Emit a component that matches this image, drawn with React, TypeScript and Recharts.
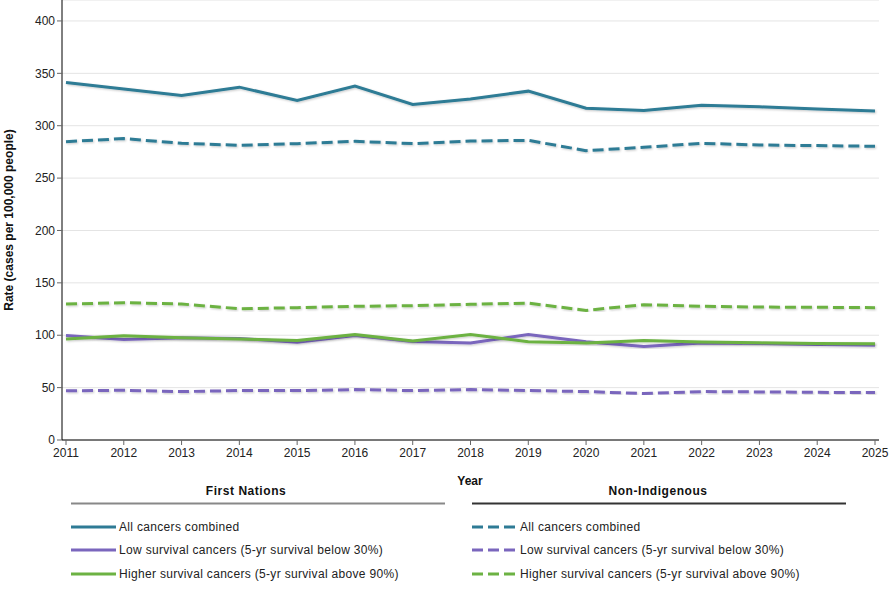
import React from 'react';
import { LineChart, Line, XAxis, YAxis, CartesianGrid, Legend, Label } from 'recharts';

const years = ['2011', '2012', '2013', '2014', '2015', '2016', '2017', '2018', '2019', '2020', '2021', '2022', '2023', '2024', '2025'];
const fnAll = [341.2, 335, 328.8, 336.8, 324, 337.8, 320.2, 325.5, 333, 316.7, 314.5, 319.6, 318, 316, 314];
const fnLow = [99.8, 96, 97.6, 96.9, 93.4, 99.8, 94.1, 92.5, 100.8, 93.8, 89.3, 92.5, 92.1, 91.1, 90.5];
const fnHigh = [96.3, 99.5, 97.6, 96.3, 95, 100.8, 94.4, 100.8, 93.8, 92.5, 95, 93.5, 92.8, 92.1, 91.8];
const niAll = [284.8, 287.7, 283.2, 281.3, 282.9, 285.1, 282.9, 285.4, 286, 276.2, 279.4, 283.2, 281.6, 281, 280.4];
const niLow = [46.9, 47.5, 46.2, 47.2, 47.2, 48.1, 47.2, 48.1, 47.2, 46.2, 44.3, 46.2, 45.9, 45.5, 45.3];
const niHigh = [129.8, 131.1, 129.8, 125.3, 126.3, 127.6, 128.2, 129.5, 130.7, 123.7, 129.2, 127.6, 126.9, 126.7, 126.3];
const yTicks = [0, 50, 100, 150, 200, 250, 300, 350, 400];

const seriesLabels = [
  'All cancers combined',
  'Low survival cancers (5-yr survival below 30%)',
  'Higher survival cancers (5-yr survival above 90%)',
];
const groupTitles = ['First Nations', 'Non-Indigenous'];

const TEAL = '#2e7b95';
const PURPLE = '#7a66bd';
const GREEN = '#6cb243';
const colors = [TEAL, PURPLE, GREEN];
const DASH = '11 5';
const FONT = '"Liberation Sans", Arial, sans-serif';

const data = years.map((y, i) => ({
  year: y,
  fnAll: fnAll[i],
  fnLow: fnLow[i],
  fnHigh: fnHigh[i],
  niAll: niAll[i],
  niLow: niLow[i],
  niHigh: niHigh[i],
}));

const lines = [
  { key: 'fnAll', color: TEAL, dash: undefined },
  { key: 'fnLow', color: PURPLE, dash: undefined },
  { key: 'fnHigh', color: GREEN, dash: undefined },
  { key: 'niAll', color: TEAL, dash: DASH },
  { key: 'niLow', color: PURPLE, dash: DASH },
  { key: 'niHigh', color: GREEN, dash: DASH },
];

const LegendContent = () => {
  const cols = [
    { title: groupTitles[0], titleX: 246, ulX1: 71, ulX2: 445, ulColor: '#888888', symX: 71, textX: 119, dash: undefined },
    { title: groupTitles[1], titleX: 658, ulX1: 472, ulX2: 846, ulColor: '#333333', symX: 472, textX: 520, dash: DASH },
  ];
  const rowsY = [57, 80, 104];
  return (
    <svg width={890} height={130} style={{ position: 'absolute', left: 0, top: 470, overflow: 'visible' }}>
      {cols.map((c, ci) => (
        <g key={ci}>
          <text x={c.titleX} y={21} textAnchor="middle" dominantBaseline="central" fontFamily={FONT} fontSize={12} fontWeight="bold" letterSpacing={0.55} fill="#111">
            {c.title}
          </text>
          <line x1={c.ulX1} x2={c.ulX2} y1={33.5} y2={33.5} stroke={c.ulColor} strokeWidth={2} />
          {seriesLabels.map((s, si) => (
            <g key={si}>
              <line x1={c.symX} x2={c.symX + 45} y1={rowsY[si]} y2={rowsY[si]} stroke={colors[si]} strokeWidth={3} strokeDasharray={c.dash} />
              <text x={c.textX} y={rowsY[si]} dominantBaseline="central" fontFamily={FONT} fontSize={12} letterSpacing={0.32} fill="#222">
                {s}
              </text>
            </g>
          ))}
        </g>
      ))}
    </svg>
  );
};

export default function App() {
  return (
    <div style={{ position: 'absolute', left: 0, top: 0, width: 890, height: 600, background: '#fff' }}>
      <LineChart width={890} height={600} data={data} margin={{ top: 0, right: 11, bottom: 130, left: 0 }}>
        <defs>
          <filter id="lineShadow" x="-5%" y="-20%" width="110%" height="140%">
            <feDropShadow dx="1" dy="1" stdDeviation="0.8" floodColor="#000" floodOpacity="0.22" />
          </filter>
        </defs>
        <CartesianGrid vertical={false} stroke="#e4e4e4" strokeWidth={1} />
        <XAxis
          dataKey="year"
          height={30}
          padding={{ left: 4, right: 4 }}
          interval={0}
          axisLine={{ stroke: '#000' }}
          tickLine={{ stroke: '#666' }}
          tickSize={5}
          tick={{ fontSize: 12, fill: '#222', fontFamily: FONT }}
          tickMargin={3}
        >
          <Label
            content={() => (
              <text x={470} y={481} textAnchor="middle" dominantBaseline="central" fontFamily={FONT} fontSize={12} fontWeight="bold" fill="#111">
                Year
              </text>
            )}
          />
        </XAxis>
        <YAxis
          width={62}
          domain={[0, 420]}
          ticks={yTicks}
          interval={0}
          axisLine={{ stroke: '#000' }}
          tickLine={{ stroke: '#666' }}
          tickSize={5}
          tick={{ fontSize: 12, fill: '#222', fontFamily: FONT }}
          tickMargin={2}
        >
          <Label
            content={() => (
              <text
                x={8.5}
                y={220}
                textAnchor="middle"
                dominantBaseline="central"
                transform="rotate(-90 8.5 220)"
                fontFamily={FONT}
                fontSize={12}
                fontWeight="bold"
                fill="#111"
              >
                Rate (cases per 100,000 people)
              </text>
            )}
          />
        </YAxis>
        <Legend
          content={() => <LegendContent />}
          wrapperStyle={{ position: 'absolute', left: 0, top: 0, width: 890, height: 0, overflow: 'visible' }}
        />
        {lines.map((l) => (
          <Line
            key={l.key}
            type="linear"
            dataKey={l.key}
            stroke={l.color}
            strokeWidth={3}
            strokeDasharray={l.dash}
            dot={false}
            activeDot={false}
            filter="url(#lineShadow)"
            isAnimationActive={false}
          />
        ))}
      </LineChart>
    </div>
  );
}
